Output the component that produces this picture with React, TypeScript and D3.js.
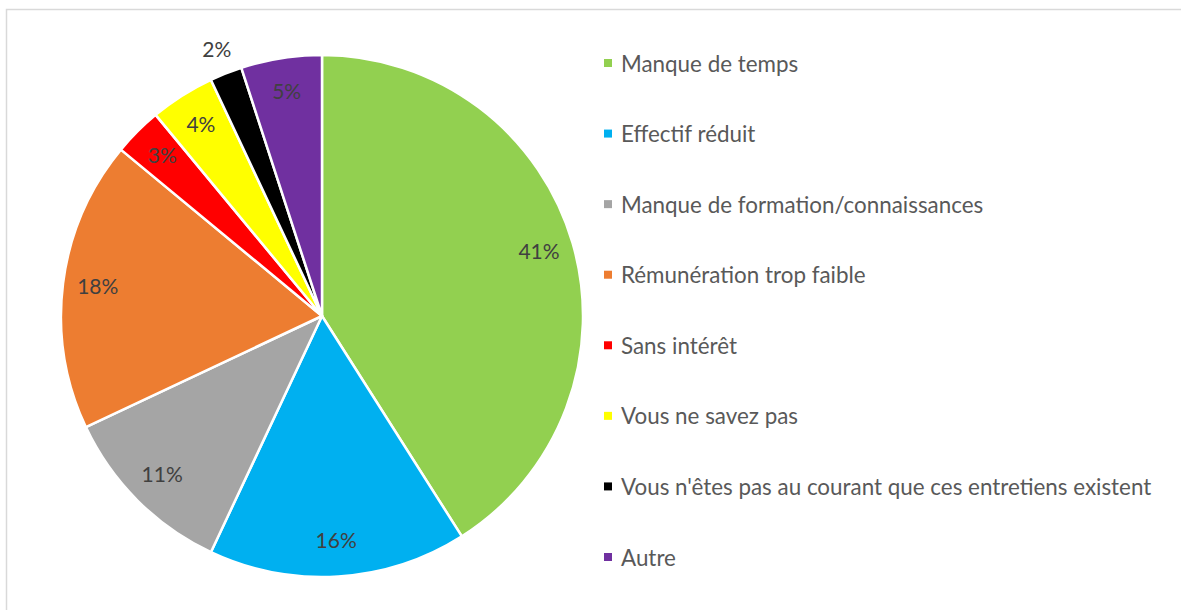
import React from "react";
import * as d3 from "d3";

const categories = [
  "Manque de temps",
  "Effectif réduit",
  "Manque de formation/connaissances",
  "Rémunération trop faible",
  "Sans intérêt",
  "Vous ne savez pas",
  "Vous n'êtes pas au courant que ces entretiens existent",
  "Autre",
];
const values = [41, 16, 11, 18, 3, 4, 2, 5];
const colors = ["#92D050", "#00B0F0", "#A5A5A5", "#ED7D31", "#FF0000", "#FFFF00", "#000000", "#7030A0"];

const W = 1181;
const H = 610;
const cx = 322;
const cy = 316;
const R = 261;
const FONT = "Lato, 'Noto Sans', sans-serif";

export default function App() {
  const data = categories.map((c, i) => ({ c, v: values[i], color: colors[i] }));
  const pie = d3.pie<any>().value((d) => d.v).sort(null);
  const arcs = pie(data);
  const arc = d3.arc<any>().innerRadius(0).outerRadius(R);
  const labelArc = d3.arc<any>().innerRadius(226).outerRadius(226);
  const outArc = d3.arc<any>().innerRadius(286).outerRadius(286);
  const legendY = d3.scalePoint<number>().domain(d3.range(categories.length)).range([63, 557]);

  return (
    <svg width={W} height={H} style={{ position: "absolute", left: 0, top: 0, background: "#fff" }}>
      <rect x={6.5} y={9.5} width={W} height={H} fill="#fff" stroke="#D9D9D9" strokeWidth={1.5} />
      <g transform={`translate(${cx},${cy})`}>
        {arcs.map((a, i) => (
          <path key={i} d={arc(a) as string} fill={a.data.color} stroke="#fff" strokeWidth={2.5} strokeLinejoin="round" />
        ))}
        {arcs.map((a, i) => {
          const [x, y] = (a.data.v < 2.5 ? outArc : labelArc).centroid(a);
          return (
            <text key={i} x={x} y={y - 2} textAnchor="middle" dominantBaseline="central" fontFamily={FONT} fontSize={21} fill="#404040">
              {a.data.v}%
            </text>
          );
        })}
      </g>
      <g>
        {categories.map((c, i) => (
          <g key={i} transform={`translate(0,${legendY(i)})`}>
            <rect x={604} y={-4} width={8} height={8} fill={colors[i]} />
            <text x={621} y={0} dominantBaseline="central" fontFamily={FONT} fontSize={22.4} fill="#595959">
              {c}
            </text>
          </g>
        ))}
      </g>
    </svg>
  );
}
